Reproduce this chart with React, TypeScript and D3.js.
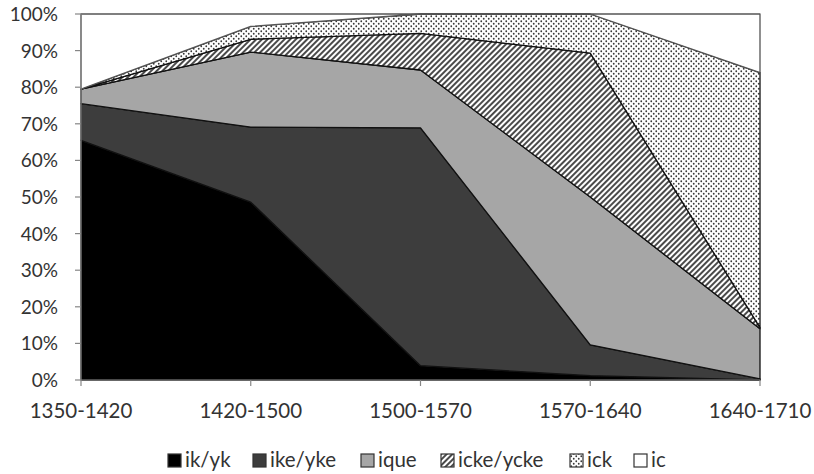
import React from "react";
import * as d3 from "d3";

const categories = ["1350-1420", "1420-1500", "1500-1570", "1570-1640", "1640-1710"];
const seriesNames = ["ik/yk", "ike/yke", "ique", "icke/ycke", "ick", "ic"];
const ikYk = [65.5, 48.6, 3.9, 1.2, 0];
const ikeYke = [10, 20.5, 65, 8.4, 0.3];
const ique = [4, 20.5, 15.8, 40.4, 13.7];
const ickeYcke = [0, 3.5, 10, 39.3, 0.3];
const ick = [0, 3.5, 5.3, 10.7, 69.7];
const ic = [20.5, 3.4, 0, 0, 16];
const yTicks = [0, 10, 20, 30, 40, 50, 60, 70, 80, 90, 100];

const fills = ["#000000", "#3d3d3d", "#a6a6a6", "url(#hatch)", "url(#dots)", "#ffffff"];

export default function App() {
  const W = 814, H = 474;
  const left = 81, right = 760, top = 14, bottom = 380;
  const x = d3.scalePoint<string>().domain(categories).range([left, right]);
  const y = d3.scaleLinear().domain([0, 100]).range([bottom, top]);
  const allSeries = [ikYk, ikeYke, ique, ickeYcke, ick, ic];
  const rows = categories.map((c, i) => {
    const r: any = { cat: c };
    seriesNames.forEach((n, k) => (r[n] = allSeries[k][i]));
    return r;
  });
  const stacked = d3.stack<any>().keys(seriesNames)(rows);
  const area = d3
    .area<any>()
    .x((d) => x(d.data.cat) as number)
    .y0((d) => y(d[0]))
    .y1((d) => y(Math.min(100, d[1])));
  const font = "Lato, 'Open Sans', sans-serif";
  const legendX = [168, 253, 361, 441, 570, 634];
  return (
    <svg width={W} height={H} style={{ position: "absolute", left: 0, top: 0, background: "#fff" }}>
      <defs>
        <pattern id="hatch" width="4" height="4" patternUnits="userSpaceOnUse" patternTransform="rotate(45)">
          <rect width="4" height="4" fill="#fff" />
          <line x1="1" y1="0" x2="1" y2="4" stroke="#2a2a2a" strokeWidth="1.7" />
        </pattern>
        <pattern id="dots" width="5" height="5" patternUnits="userSpaceOnUse">
          <rect width="5" height="5" fill="#fff" />
          <circle cx="1.25" cy="1.25" r="0.9" fill="#3a3a3a" />
          <circle cx="3.75" cy="3.75" r="0.9" fill="#3a3a3a" />
        </pattern>
      </defs>
      <rect x={0} y={0} width={W} height={H} fill="#fff" />
      {stacked.map((s, k) => (
        <path key={k} d={area(s) as string} fill={fills[k]} stroke={k === 5 ? "#555" : "#111"} strokeWidth={1.3} strokeLinejoin="round" />
      ))}
      <line x1={left} y1={top} x2={left} y2={bottom} stroke="#868686" strokeWidth={1.2} />
      <line x1={left} y1={bottom} x2={right} y2={bottom} stroke="#868686" strokeWidth={1.2} />
      {yTicks.map((t) => (
        <g key={t}>
          <line x1={left - 6} x2={left} y1={y(t)} y2={y(t)} stroke="#868686" strokeWidth={1.2} />
          <text x={58} y={y(t) + 7} textAnchor="end" fontFamily={font} fontSize={19} fill="#333">
            {t}%
          </text>
        </g>
      ))}
      {categories.map((c) => (
        <g key={c}>
          <line x1={x(c)} x2={x(c)} y1={bottom} y2={bottom + 6} stroke="#868686" strokeWidth={1.2} />
          <text x={x(c)} y={418} textAnchor="middle" fontFamily={font} fontSize={20.5} fill="#333">
            {c}
          </text>
        </g>
      ))}
      {seriesNames.map((n, k) => (
        <g key={n}>
          <rect x={legendX[k]} y={454} width={13} height={13} fill={fills[k]} stroke="#333" strokeWidth={1.2} />
          <text x={legendX[k] + 17} y={467} fontFamily={font} fontSize={20.5} fill="#333">
            {n}
          </text>
        </g>
      ))}
    </svg>
  );
}
